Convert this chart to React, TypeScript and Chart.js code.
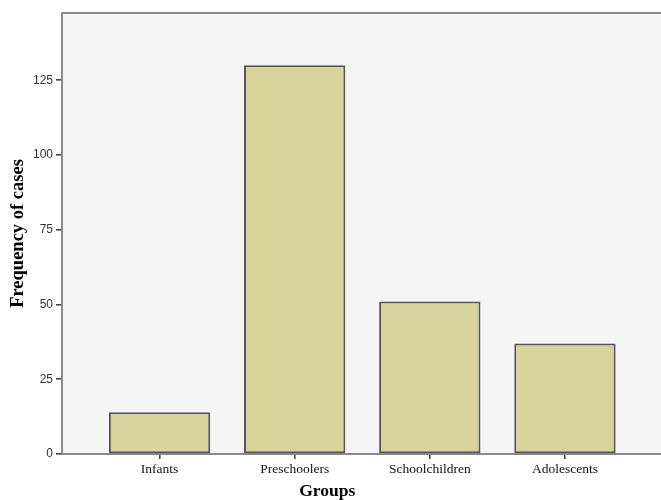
import React, { useEffect, useRef } from "react";
import { Chart, registerables } from "chart.js";

Chart.register(...registerables);

const categories = ["Infants", "Preschoolers", "Schoolchildren", "Adolescents"];
const frequencies = [14, 130, 51, 37];
const yTickValues = [0, 25, 50, 75, 100, 125];

const plotBackground = {
  id: "plotBackground",
  beforeDraw(chart: any) {
    const { ctx, chartArea } = chart;
    ctx.save();
    ctx.fillStyle = "#f5f5f5";
    ctx.fillRect(chartArea.left, chartArea.top, chartArea.right - chartArea.left, chartArea.bottom - chartArea.top);
    ctx.strokeStyle = "#8a8a8a";
    ctx.lineWidth = 2;
    ctx.beginPath();
    ctx.moveTo(chartArea.left, chartArea.top);
    ctx.lineTo(chartArea.right + 10, chartArea.top);
    ctx.stroke();
    ctx.restore();
  },
};

export default function App() {
  const ref = useRef<HTMLCanvasElement | null>(null);

  useEffect(() => {
    if (!ref.current) return;
    const chart = new Chart(ref.current, {
      type: "bar",
      data: {
        datasets: [
          {
            data: frequencies.map((v, i) => ({ x: i, y: v })),
            backgroundColor: "#d7d39b",
            borderColor: "#555555",
            borderWidth: 2,
            borderSkipped: false,
            barPercentage: 0.75,
            categoryPercentage: 1,
          },
        ],
      },
      options: {
        animation: false,
        responsive: false,
        devicePixelRatio: 1,
        layout: { padding: { top: 13, right: 7.5, left: 0, bottom: 0 } },
        plugins: { legend: { display: false }, tooltip: { enabled: false } },
        scales: {
          x: {
            type: "linear",
            offset: false,
            min: -0.722,
            max: 3.722,
            afterBuildTicks: (scale: any) => {
              scale.ticks = categories.map((_, i) => ({ value: i }));
            },
            afterFit: (scale: any) => {
              scale.height = 46;
            },
            grid: {
              display: true,
              offset: false,
              drawOnChartArea: false,
              drawTicks: true,
              tickLength: 5,
              color: "#444",
              lineWidth: 1.6,
            },
            border: { display: true, color: "#8a8a8a", width: 2 },
            ticks: {
              autoSkip: false,
              maxRotation: 0,
              minRotation: 0,
              padding: 2,
              color: "#111",
              font: { family: "'Liberation Serif', 'Times New Roman', serif", size: 13.5 },
              callback: (v: any) => categories[Math.round(Number(v))] ?? "",
            },
            title: {
              display: true,
              text: "Groups" + " ".repeat(16),
              color: "#000",
              padding: { top: 0, bottom: 0 },
              font: { family: "'Liberation Serif', 'Times New Roman', serif", size: 17.5, weight: "bold", lineHeight: 1 },
            },
          },
          y: {
            type: "linear",
            min: 0,
            max: 147.5,
            afterBuildTicks: (scale: any) => {
              scale.ticks = yTickValues.map((v) => ({ value: v }));
            },
            afterFit: (scale: any) => {
              scale.width = 62;
            },
            grid: {
              display: true,
              drawOnChartArea: false,
              drawTicks: true,
              tickLength: 6,
              color: "#444",
              lineWidth: 1.6,
            },
            border: { display: true, color: "#8a8a8a", width: 2 },
            ticks: {
              padding: 3,
              color: "#333",
              font: { family: "'Liberation Sans', Arial, sans-serif", size: 12 },
            },
            title: {
              display: true,
              text: "Frequency of cases",
              color: "#000",
              padding: { top: 9, bottom: 0 },
              font: { family: "'Liberation Serif', 'Times New Roman', serif", size: 18.5, weight: "bold", lineHeight: 1 },
            },
          },
        },
      },
      plugins: [plotBackground],
    });
    return () => chart.destroy();
  }, []);

  return (
    <div style={{ position: "absolute", left: 0, top: 0, width: 661, height: 500, overflow: "hidden", background: "#fff" }}>
      <canvas ref={ref} width={670} height={500} style={{ width: 670, height: 500, display: "block" }} />
    </div>
  );
}
